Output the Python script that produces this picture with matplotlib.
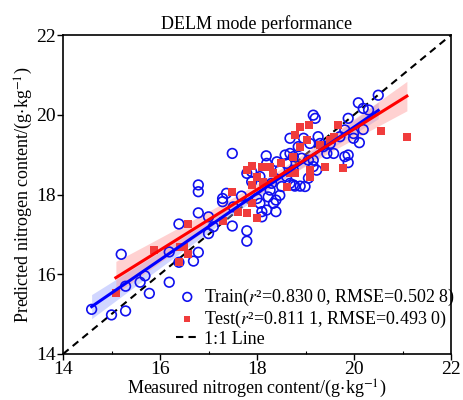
import numpy as np
import matplotlib
matplotlib.use("Agg")
import matplotlib.pyplot as plt
from matplotlib.ticker import MultipleLocator

plt.rcParams['font.family'] = ['Liberation Serif', 'DejaVu Serif']
plt.rcParams['mathtext.fontset'] = 'stix'

# ---- data ----
train_x = [14.59, 15.00, 15.29, 15.29, 15.20, 15.59, 15.69, 15.78, 16.19, 16.19,
           16.39, 16.39, 16.69, 16.79, 16.79, 17.00, 16.79, 16.79, 17.00, 17.10,
           17.29, 17.29, 17.37, 17.49, 17.49, 17.51, 17.68, 17.79, 17.79, 17.89,
           17.89, 18.00, 18.06, 18.10, 18.10, 18.19, 18.20, 18.23, 18.27, 18.30,
           18.34, 18.39, 18.39, 18.41, 18.47, 18.51, 18.58, 18.61, 18.68, 18.68,
           18.75, 18.75, 18.78, 18.89, 18.99, 18.68, 18.85, 18.96, 19.09, 19.16,
           19.20, 19.16, 19.23, 19.26, 19.30, 19.37, 19.06, 19.16, 19.44, 19.51,
           19.58, 19.71, 19.81, 19.81, 19.88, 19.88, 19.88, 19.99, 19.99, 20.11,
           20.19, 20.09, 20.19, 20.30, 20.50, 18.20, 18.06, 17.79, 18.47, 18.75,
           18.61, 18.92, 19.06]
train_y = [15.12, 14.98, 15.08, 15.70, 16.50, 15.80, 15.96, 15.52, 15.80, 16.56,
           17.26, 16.30, 16.33, 16.55, 17.54, 17.44, 18.24, 18.07, 17.02, 17.19,
           17.90, 17.82, 18.03, 19.03, 17.21, 17.69, 17.96, 17.09, 16.83, 18.57,
           18.32, 17.90, 17.78, 17.57, 17.44, 18.97, 17.61, 17.94, 18.11, 18.28,
           17.78, 17.57, 17.86, 18.82, 18.61, 18.20, 18.99, 18.45, 19.03, 18.28,
           18.24, 18.61, 18.21, 18.21, 18.20, 19.41, 19.20, 19.41, 19.28, 19.99,
           19.91, 18.86, 18.61, 19.45, 19.28, 19.20, 18.86, 18.70, 19.03, 19.28,
           19.03, 19.45, 18.95, 19.62, 18.99, 18.80, 19.91, 19.53, 19.41, 19.30,
           19.63, 20.30, 20.16, 20.12, 20.49, 18.78, 18.45, 18.53, 17.98, 18.95,
           18.78, 18.91, 18.41]

test_x = [15.09, 15.88, 16.39, 16.41, 16.49, 16.58, 16.58, 17.29, 17.49, 17.60,
          17.79, 17.79, 17.89, 17.89, 17.89, 18.00, 18.00, 18.10, 18.13, 18.27,
          18.34, 18.49, 18.61, 18.68, 18.75, 18.78, 18.89, 18.89, 19.03, 19.08,
          19.09, 19.09, 19.30, 19.40, 19.51, 19.59, 19.68, 19.78, 20.55, 21.09,
          18.78]
test_y = [15.52, 16.61, 16.31, 16.69, 16.69, 17.27, 16.52, 17.34, 18.07, 17.57,
          17.54, 18.62, 18.72, 18.24, 17.78, 17.40, 18.45, 18.70, 18.32, 18.70,
          18.53, 18.78, 18.20, 18.53, 18.95, 19.49, 19.70, 19.20, 19.37, 19.74,
          18.61, 18.45, 19.24, 18.70, 19.37, 19.45, 19.74, 18.66, 19.60, 19.44,
          18.53]

title = "DELM mode performance"
xlabel = r"Measured nitrogen content/(g$\cdot$kg$^{-1}$)"
ylabel = r"Predicted nitrogen content/(g$\cdot$kg$^{-1}$)"
train_label = "Train($r$²=0.830 0, RMSE=0.502 8)"
test_label = "Test($r$²=0.811 1, RMSE=0.493 0)"
line_label = "1:1 Line"
lims = [14, 22]
ticks = [14, 16, 18, 20, 22]


def fit_band(x, y):
    x = np.asarray(x); y = np.asarray(y)
    b, a = np.polyfit(x, y, 1)
    xs = np.linspace(x.min(), x.max(), 100)
    ys = a + b * xs
    resid = y - (a + b * x)
    n = len(x)
    s = np.sqrt(np.sum(resid ** 2) / (n - 2))
    sxx = np.sum((x - x.mean()) ** 2)
    se = s * np.sqrt(1.0 / n + (xs - x.mean()) ** 2 / sxx)
    return xs, ys, 1.98 * se


fig = plt.figure(figsize=(4.64, 4.0), dpi=100)
ax = fig.add_axes([0.1358, 0.115, 0.8362, 0.7975])

ax.plot(lims, lims, ls=(0, (3.5, 2.5)), color='black', lw=1.5, zorder=1, label=line_label)

for xx, yy, c, fc in [(train_x, train_y, '#0000ff', '#9aa6ff'), (test_x, test_y, '#ff0000', '#ff9a9a')]:
    xs, ys, ci = fit_band(xx, yy)
    ax.fill_between(xs, ys - ci, ys + ci, color=fc, alpha=0.45, lw=0, zorder=2)

ax.scatter(train_x, train_y, s=48, facecolors='none', edgecolors='#1010ee', linewidths=1.2,
           zorder=3, label=train_label)
ax.scatter(test_x, test_y, s=26, marker='s', color='#f03c3c', linewidths=0, zorder=4,
           label=test_label)

for xx, yy, c in [(train_x, train_y, '#0000ff'), (test_x, test_y, '#ff0000')]:
    xs, ys, ci = fit_band(xx, yy)
    ax.plot(xs, ys, color=c, lw=2.2, zorder=5)

ax.set_xlim(lims)
ax.set_ylim(lims)
ax.set_xticks(ticks)
ax.set_yticks(ticks)
ax.xaxis.set_minor_locator(MultipleLocator(1))
ax.tick_params(axis='both', which='major', direction='out', length=4, width=1, labelsize=14, pad=1)
ax.tick_params(axis='x', which='minor', direction='in', length=2, width=0.8)
ax.tick_params(axis='y', which='minor', left=False)
for sp in ax.spines.values():
    sp.set_linewidth(1.2)

ax.set_title(title, fontsize=13, pad=4)
ax.set_xlabel(xlabel, fontsize=13, labelpad=0)
ax.set_ylabel(ylabel, fontsize=13, labelpad=1)

h, l = ax.get_legend_handles_labels()
order = [1, 2, 0]
leg = ax.legend([h[i] for i in order], [l[i] for i in order], loc='lower left',
                bbox_to_anchor=(0.29, 0.02), frameon=False, fontsize=13,
                handlelength=1.3, handletextpad=0.3, labelspacing=0.05,
                borderpad=0, borderaxespad=0, markerscale=0.9)

fig.savefig("out.png", dpi=100)
